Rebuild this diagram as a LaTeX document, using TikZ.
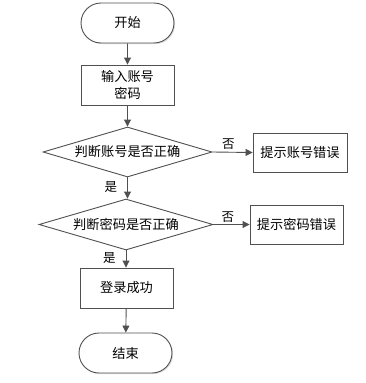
\documentclass[tikz,border=0pt]{standalone}
\usepackage{fontspec}
\setmainfont{Noto Sans CJK SC}
\usetikzlibrary{arrows.meta,shapes.geometric,shapes.misc,shadows}
\definecolor{ln}{HTML}{505050}
\tikzset{
  base/.style={draw=ln, line width=0.9pt, fill=white, font=\fontsize{13.2}{17}\selectfont, align=center, inner sep=0pt},
  shad/.style={drop shadow={shadow xshift=1.2pt, shadow yshift=-1.2pt, opacity=0.25, fill=gray}},
  term/.style={base, shad, rounded rectangle, minimum width=93pt, minimum height=40pt},
  proc/.style={base, shad, rectangle, minimum width=93pt, minimum height=40pt},
  dec/.style={base, diamond, aspect=3.4},
  arr/.style={draw=ln, line width=0.9pt, -{Triangle[length=7pt,width=7pt]}},
  lab/.style={font=\fontsize{12.5}{14}\selectfont, inner sep=0pt}
}
\begin{document}
\begin{tikzpicture}[x=1pt,y=-1pt]
\useasboundingbox (0,0) rectangle (365,383);
\node[term] (start) at (127.5,23) {开始};
\node[proc] (input) at (127.5,85) {输入账号\\密码};
\node[dec, minimum width=169pt, minimum height=50pt] (d1) at (127.5,152) {判断账号是否正确};
\node[proc, minimum width=94pt, minimum height=39pt] (e1) at (300,152.5) {提示账号错误};
\node[dec, minimum width=174pt, minimum height=51pt] (d2) at (126,224.5) {判断密码是否正确};
\node[proc, minimum width=93pt, minimum height=39pt] (e2) at (296.5,224.5) {提示密码错误};
\node[proc] (ok) at (126.5,288) {登录成功};
\node[term] (end) at (125.5,353) {结束};
\draw[arr] (start) -- (input);
\draw[arr] (input) -- (d1);
\draw[arr] (d1.east) -- (e1.west) node[lab, pos=0.4, above=2pt] {否};
\draw[arr] (d1.south) -- (d2.north -| d1.south) node[lab, pos=0.45, left=10pt] {是};
\draw[arr] (d2.east) -- (e2.west) node[lab, pos=0.4, above=2pt] {否};
\draw[arr] (d2.south) -- (ok.north -| d2.south) node[lab, pos=0.45, left=10pt] {是};
\draw[arr] (ok) -- (end);
\end{tikzpicture}
\end{document}
